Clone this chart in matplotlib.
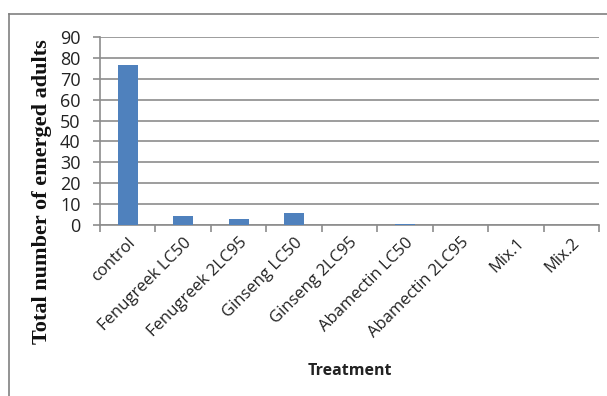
import matplotlib
matplotlib.use("Agg")
import matplotlib.pyplot as plt
from matplotlib.lines import Line2D
import numpy as np

treatments = ["control", "Fenugreek LC50", "Fenugreek 2LC95", "Ginseng LC50",
              "Ginseng 2LC95", "Abamectin LC50", "Abamectin 2LC95", "Mix.1", "Mix.2"]
emerged = [76.5, 4.3, 2.7, 5.9, 0, 0.7, 0, 0, 0]
y_ticks = [0, 10, 20, 30, 40, 50, 60, 70, 80, 90]

W, H = 607, 396
fig = plt.figure(figsize=(W / 100, H / 100), dpi=100)
ax = fig.add_axes([100 / W, 1 - 225 / H, 499 / W, 188 / H])

x = np.arange(len(treatments))
ax.bar(x, emerged, width=0.36, color="#4F81BD", zorder=3)

ax.set_xlim(-0.5, len(treatments) - 0.5)
ax.set_ylim(0, 90)
ax.set_yticks(y_ticks)
ax.set_yticklabels([str(v) for v in y_ticks], fontfamily="Open Sans", fontsize=13,
                   color="#222222")
ax.grid(axis="y", color="#8c8c8c", linewidth=1.2, zorder=0)

ax.set_xticks(x)
ax.set_xticklabels(treatments, rotation=45, ha="right", rotation_mode="anchor",
                   fontfamily="Open Sans", fontsize=12, color="#222222")
ax.tick_params(axis="x", length=0, pad=7)
ax.set_xticks(np.arange(len(treatments) + 1) - 0.5, minor=True)
ax.tick_params(axis="x", which="minor", length=5, color="#8c8c8c", width=1.2)
ax.tick_params(axis="y", length=5, color="#8c8c8c", width=1.2, pad=9)

for side in ["top", "right"]:
    ax.spines[side].set_visible(False)
for side in ["left", "bottom"]:
    ax.spines[side].set_color("#8c8c8c")
    ax.spines[side].set_linewidth(1.2)

fig.text(42 / W, 1 - 192 / H, "Total number of emerged adults", rotation=90,
         ha="center", va="center", fontfamily="Liberation Serif", fontweight="bold",
         fontsize=16, color="#111111")
fig.text(350 / W, 1 - 371 / H, "Treatment", ha="center", va="center",
         fontfamily="Open Sans", fontweight="bold", fontsize=11.5, color="#222222")

# outer chart frame (top and left edges)
fig.add_artist(Line2D([9 / W, 1], [1 - 14 / H, 1 - 14 / H], color="#808080", linewidth=1.2,
                      transform=fig.transFigure))
fig.add_artist(Line2D([9 / W, 9 / W], [0, 1 - 14 / H], color="#808080", linewidth=1.2,
                      transform=fig.transFigure))

fig.savefig("out.png", dpi=100)
